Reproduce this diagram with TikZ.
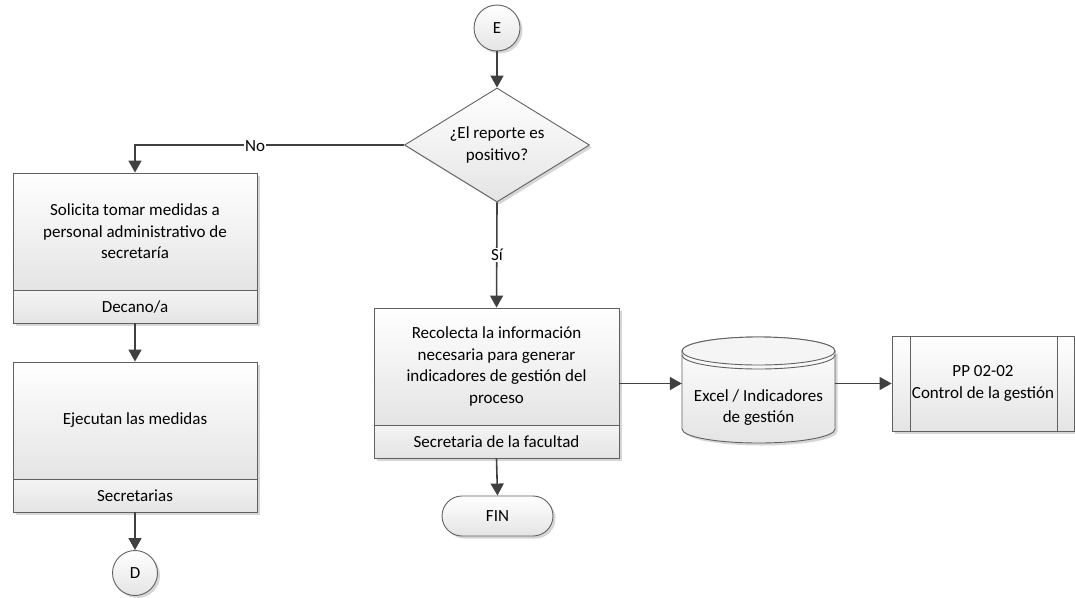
\documentclass[tikz,border=0pt]{standalone}
\usepackage{fontspec}
\setmainfont{Carlito}
\usetikzlibrary{arrows.meta,shapes.geometric,shapes.misc,shadows}

\definecolor{edge}{HTML}{404040}
\definecolor{frame}{HTML}{606060}
\definecolor{fillbot}{HTML}{E4E4E4}
\definecolor{lanetop}{HTML}{F4F4F4}

\tikzset{
  txt/.style={font=\fontsize{17}{21.5}\selectfont, align=center, text=black},
  shade/.style={drop shadow={shadow xshift=2.5pt, shadow yshift=-2.5pt, fill=black!35, opacity=0.45}},
  base/.style={txt, draw=frame, line width=0.9pt, top color=white, bottom color=fillbot, inner sep=0pt, shade},
  task/.style={base, rectangle, minimum width=244pt, minimum height=117pt},
  lane/.style={base, rectangle, minimum width=244pt, minimum height=33pt, top color=lanetop, bottom color=fillbot},
  decision/.style={base, diamond, aspect=1.62, minimum width=185pt, minimum height=114pt},
  connector/.style={base, circle, minimum size=46pt},
  terminal/.style={base, rounded rectangle, minimum width=111pt, minimum height=40pt},
  subproc/.style={base, rectangle, minimum width=182pt, minimum height=95pt},
  conn/.style={draw=edge, line width=1.6pt, -{Triangle[length=12pt,width=13pt]}},
  tag/.style={txt, fill=white, inner sep=1.5pt},
}

\begin{document}
\begin{tikzpicture}[x=1pt, y=-1pt]
  \fill[white] (0,0) rectangle (1075,597);
  \useasboundingbox (0,0) rectangle (1075,597);

  % start connector and decision
  \node[connector] (E) at (497,28) {E};
  \node[decision] (dec) at (497,145) {¿El reporte es\\positivo?};

  % left branch
  \node[task] (r1) at (135,231.5) {Solicita tomar medidas a\\personal administrativo de\\secretaría};
  \node[lane] (r1l) at (135,306.5) {Decano/a};
  \node[task] (r2) at (135,420.5) {Ejecutan las medidas};
  \node[lane] (r2l) at (135,495.5) {Secretarias};
  \node[connector, minimum size=45pt] (D) at (135,573) {D};

  % right branch
  \node[task, minimum width=245pt] (r3) at (496.5,366.5) {Recolecta la información\\necesaria para generar\\indicadores de gestión del\\proceso};
  \node[lane, minimum width=245pt] (r3l) at (496.5,441.5) {Secretaria de la facultad};
  \node[terminal] (fin) at (497.5,516) {FIN};

  % data store (cylinder)
  \begin{scope}
    \fill[black!35, opacity=0.45, shift={(2.5,2.5)}]
      (682,351) -- (682,429) arc[start angle=180, end angle=360, x radius=76.5pt, y radius=14pt]
      -- (835,351) -- cycle;
    \path[draw=frame, line width=0.9pt, top color=white, bottom color=fillbot]
      (682,351) -- (682,429) arc[start angle=180, end angle=360, x radius=76.5pt, y radius=14pt]
      -- (835,351) arc[start angle=0, end angle=180, x radius=76.5pt, y radius=14pt] -- cycle;
    \path[draw=frame, line width=0.9pt, fill=white!96!black]
      (758.5,351) ellipse[x radius=76.5pt, y radius=14pt];
    \draw[frame, line width=0.9pt]
      (682,355) arc[start angle=180, end angle=360, x radius=76.5pt, y radius=14pt];
  \end{scope}
  \node[txt, minimum width=153pt, minimum height=106pt, inner sep=0pt] (cyl) at (758.5,390) {};
  \node[txt] (cyltxt) at (758.5,407.5) {Excel / Indicadores\\de gestión};

  % predefined process
  \node[subproc] (proc) at (983,383.5) {PP 02-02\\Control de la gestión};
  \draw[frame, line width=0.9pt] ([xshift=19pt]proc.north west) -- ([xshift=19pt]proc.south west);
  \draw[frame, line width=0.9pt] ([xshift=-17pt]proc.north east) -- ([xshift=-17pt]proc.south east);

  % connectors
  \draw[conn] (E) -- (dec);
  \draw[conn] (dec.west) -| (r1.north);
  \node[tag] (no) at (255,146) {No};
  \draw[conn] (dec.south) -- (r3.north);
  \node[tag] (si) at (497,255) {Sí};
  \draw[conn] (r1l.south) -- (r2.north);
  \draw[conn] (r2l.south) -- (D.north);
  \draw[conn] (r3l.south) -- (fin.north);
  \draw[conn] (r3.east |- proc.west) -- (cyl.west |- proc.west);
  \draw[conn] (cyl.east |- proc.west) -- (proc.west);
\end{tikzpicture}
\end{document}
